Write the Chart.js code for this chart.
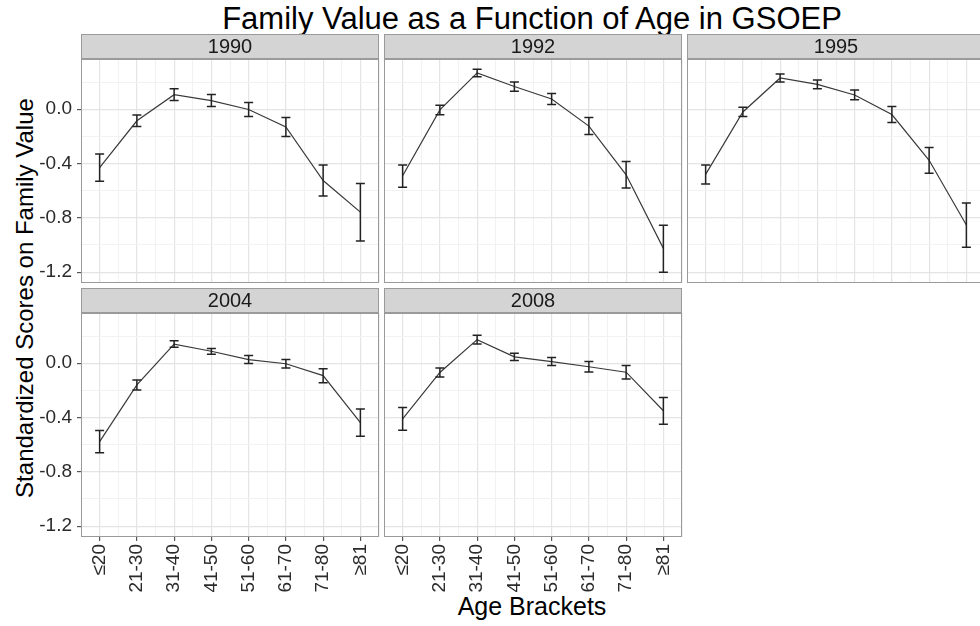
<!DOCTYPE html>
<html>
<head>
<meta charset="utf-8">
<script src="https://cdn.jsdelivr.net/npm/chart.js@4"></script>
<style>
body { margin: 0; width: 980px; height: 626px; overflow: hidden; background: #fff; position: relative;
  font-family: "Liberation Sans", Arial, sans-serif; }
canvas { position: absolute; }
.txt { position: absolute; white-space: nowrap; color: #000; }
#title { left: 532px; top: 3px; font-size: 31px; line-height: 31px; transform: translateX(-50%); }
#ytitle { left: 25px; top: 298px; font-size: 24px; line-height: 24px; transform: translate(-50%, -50%) rotate(-90deg); }
#xtitle { left: 532px; top: 594px; font-size: 25px; line-height: 25px; transform: translateX(-50%); }
</style>
</head>
<body>
<div class="txt" id="title">Family Value as a Function of Age in GSOEP</div>
<div class="txt" id="ytitle">Standardized Scores on Family Value</div>
<div class="txt" id="xtitle">Age Brackets</div>

<script>
const ageBrackets = ['≤20', '21-30', '31-40', '41-50', '51-60', '61-70', '71-80', '≥81'];
const years = ['1990', '1992', '1995', '2004', '2008'];

const mean1990 = [-0.43, -0.085, 0.107, 0.064, -0.002, -0.13, -0.525, -0.758];
const low1990  = [-0.53, -0.128, 0.064, 0.02, -0.054, -0.20, -0.64, -0.97];
const high1990 = [-0.33, -0.042, 0.15, 0.108, 0.05, -0.06, -0.41, -0.547];

const mean1992 = [-0.49, -0.005, 0.268, 0.167, 0.075, -0.124, -0.483, -1.025];
const low1992  = [-0.574, -0.04, 0.24, 0.133, 0.034, -0.187, -0.58, -1.2];
const high1992 = [-0.41, 0.03, 0.295, 0.2, 0.115, -0.06, -0.385, -0.854];

const mean1995 = [-0.48, -0.02, 0.23, 0.183, 0.105, -0.039, -0.376, -0.853];
const low1995  = [-0.55, -0.054, 0.2, 0.15, 0.069, -0.098, -0.471, -1.016];
const high1995 = [-0.41, 0.015, 0.26, 0.216, 0.142, 0.02, -0.282, -0.69];

const mean2004 = [-0.578, -0.16, 0.141, 0.088, 0.027, -0.004, -0.091, -0.438];
const low2004  = [-0.66, -0.198, 0.118, 0.067, -0.002, -0.035, -0.143, -0.538];
const high2004 = [-0.496, -0.123, 0.165, 0.109, 0.057, 0.027, -0.04, -0.338];

const mean2008 = [-0.41, -0.068, 0.174, 0.047, 0.012, -0.026, -0.066, -0.35];
const low2008  = [-0.494, -0.101, 0.141, 0.02, -0.017, -0.064, -0.116, -0.449];
const high2008 = [-0.326, -0.035, 0.207, 0.074, 0.042, 0.012, -0.017, -0.252];

const means = [mean1990, mean1992, mean1995, mean2004, mean2008];
const lows = [low1990, low1992, low1995, low2004, low2008];
const highs = [high1990, high1992, high1995, high2004, high2008];

// facet layout (pixels)
const plotLeft = [81, 384, 687];
const stripTop = [34, 288];
const plotW = 298, plotH = 224, stripH = 25, xAxisH = 63;

const FONT = '"Liberation Sans", Arial, sans-serif';
const majorGrid = '#e4e4e4', minorGrid = '#f2f2f2';

const panelDecor = {
  id: 'panelDecor',
  afterDraw(chart, args, opts) {
    const a = chart.chartArea, ctx = chart.ctx;
    ctx.save();
    ctx.fillStyle = '#d4d4d4';
    ctx.fillRect(a.left, a.top - stripH, a.right - a.left, stripH);
    ctx.strokeStyle = '#9a9a9a';
    ctx.lineWidth = 1;
    ctx.strokeRect(a.left + 0.5, a.top - stripH + 0.5, a.right - a.left - 1, stripH - 1);
    ctx.strokeRect(a.left + 0.5, a.top + 0.5, a.right - a.left - 1, a.bottom - a.top - 1);
    ctx.fillStyle = '#1a1a1a';
    ctx.font = '20px ' + FONT;
    ctx.textAlign = 'center';
    ctx.textBaseline = 'middle';
    ctx.fillText(opts.label, (a.left + a.right) / 2, a.top - stripH / 2 + 1);
    ctx.restore();
  }
};

const errorBars = {
  id: 'errorBars',
  afterDatasetsDraw(chart, args, opts) {
    const xs = chart.scales.x, ys = chart.scales.y, ctx = chart.ctx;
    ctx.save();
    ctx.strokeStyle = '#222';
    ctx.lineWidth = 1.5;
    opts.low.forEach((lo, i) => {
      const x = xs.getPixelForValue(i);
      const y1 = ys.getPixelForValue(lo);
      const y2 = ys.getPixelForValue(opts.high[i]);
      ctx.beginPath();
      ctx.moveTo(x, y1); ctx.lineTo(x, y2);
      ctx.moveTo(x - 4.5, y1); ctx.lineTo(x + 4.5, y1);
      ctx.moveTo(x - 4.5, y2); ctx.lineTo(x + 4.5, y2);
      ctx.stroke();
    });
    ctx.restore();
  }
};

const isMajor = v => Math.round(v * 10) % 4 === 0;

function noPadding(s) {
  s.paddingTop = 0; s.paddingBottom = 0; s.paddingLeft = 0; s.paddingRight = 0;
}

years.forEach((year, k) => {
  const r = k < 3 ? 0 : 1;
  const c = k % 3;
  const showY = c === 0;
  const showX = r === 1;

  const canvas = document.createElement('canvas');
  const left = showY ? 0 : plotLeft[c] - 1;
  const padLeft = showY ? 0 : 1;
  canvas.width = plotLeft[c] + plotW + 1 - left;
  canvas.height = stripH + plotH + (showX ? xAxisH : 1);
  canvas.style.left = left + 'px';
  canvas.style.top = stripTop[r] + 'px';
  document.body.appendChild(canvas);

  new Chart(canvas, {
    type: 'line',
    data: {
      labels: ageBrackets,
      datasets: [{
        data: means[k],
        borderColor: '#3a3a3a',
        borderWidth: 1.2,
        pointRadius: 0,
        tension: 0
      }]
    },
    options: {
      responsive: false,
      animation: false,
      devicePixelRatio: 1,
      layout: { padding: { top: stripH, left: padLeft, right: 1, bottom: showX ? 0 : 1 } },
      plugins: {
        legend: { display: false },
        tooltip: { enabled: false },
        panelDecor: { label: year },
        errorBars: { low: lows[k], high: highs[k] }
      },
      scales: {
        x: {
          offset: true,
          border: { display: false },
          grid: { color: majorGrid, lineWidth: 1.2, drawTicks: showX, tickLength: 4, tickColor: '#555' },
          ticks: {
            display: showX, autoSkip: false, minRotation: 90, maxRotation: 90, padding: 3,
            color: '#2b2b2b', font: { family: FONT, size: 19 }
          },
          afterFit: s => { s.height = showX ? xAxisH : 0; noPadding(s); }
        },
        x2: {
          type: 'category',
          position: 'bottom',
          offset: true,
          border: { display: false },
          grid: { offset: true, color: minorGrid, lineWidth: 1, drawTicks: false },
          ticks: { display: false },
          afterFit: s => { s.height = 0; noPadding(s); }
        },
        y: {
          min: -1.28,
          max: 0.37,
          border: { display: false },
          grid: {
            color: ctx => isMajor(ctx.tick.value) ? majorGrid : minorGrid,
            lineWidth: ctx => isMajor(ctx.tick.value) ? 1.2 : 1,
            drawTicks: showY, tickLength: 4,
            tickColor: ctx => isMajor(ctx.tick.value) ? '#555' : 'rgba(0,0,0,0)'
          },
          ticks: {
            display: showY, stepSize: 0.2, includeBounds: false, autoSkip: false, padding: 5,
            color: '#2b2b2b', font: { family: FONT, size: 19 },
            callback: v => isMajor(v) ? (Math.round(v * 10) / 10).toFixed(1) : ''
          },
          afterFit: s => { s.width = showY ? plotLeft[0] : 0; noPadding(s); }
        }
      }
    },
    plugins: [panelDecor, errorBars]
  });
});
</script>
</body>
</html>
